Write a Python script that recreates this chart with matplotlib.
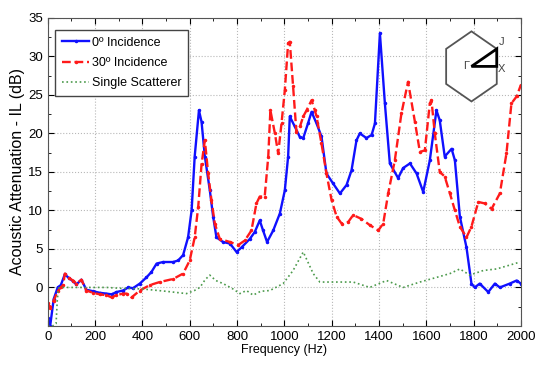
import matplotlib
matplotlib.use("Agg")
import matplotlib.pyplot as plt
from matplotlib.patches import Polygon
from matplotlib.ticker import MultipleLocator

plt.rcParams['font.family'] = ['Liberation Sans', 'DejaVu Sans']

# 0 deg incidence
f_0deg = [0, 10, 25, 42, 55, 72, 90, 107, 121, 142, 163, 192, 220, 248, 270, 290, 318, 340, 360,
          389, 417, 438, 460, 487, 530, 551, 572, 593, 608, 621, 639, 650, 664, 685, 699, 713, 741,
          770, 798, 819, 854, 875, 896, 910, 927, 953, 981, 1002, 1016, 1023, 1044, 1066, 1080,
          1100, 1115, 1136, 1157, 1178, 1206, 1235, 1263, 1284, 1305, 1319, 1347, 1369, 1383,
          1404, 1425, 1446, 1481, 1502, 1531, 1559, 1587, 1615, 1643, 1657, 1678, 1707, 1721,
          1742, 1770, 1791, 1805, 1826, 1862, 1890, 1911, 1953, 1982, 2000]
il_0deg = [-4.0, -5.0, -1.5, 0.0, 0.3, 1.7, 1.2, 0.8, 0.4, 1.0, -0.3, -0.5, -0.7, -0.8, -0.9, -0.6,
           -0.4, 0.0, -0.1, 0.5, 1.3, 2.0, 3.1, 3.3, 3.3, 3.5, 4.2, 6.5, 10.0, 17.0, 23.0, 21.5,
           17.0, 12.6, 9.2, 6.5, 5.9, 5.7, 4.6, 5.2, 6.3, 7.2, 8.7, 7.4, 5.9, 7.4, 9.6, 12.6, 17.0,
           22.2, 20.9, 19.5, 19.4, 21.3, 22.8, 21.3, 19.6, 14.8, 13.5, 12.2, 13.3, 15.2, 19.1,
           20.0, 19.4, 19.8, 21.3, 33.0, 23.9, 16.1, 14.2, 15.5, 16.1, 14.8, 12.4, 16.5, 23.0,
           21.7, 17.0, 18.0, 16.5, 9.2, 5.2, 0.5, 0.0, 0.5, -0.6, 0.5, 0.0, 0.5, 0.9, 0.5]

# 30 deg incidence
f_30deg = [0, 10, 25, 42, 55, 65, 72, 90, 107, 121, 142, 163, 192, 220, 248, 270, 290, 318, 333,
           354, 389, 431, 473, 530, 572, 600, 621, 636, 650, 664, 678, 692, 706, 727, 770, 805,
           833, 861, 882, 896, 917, 932, 941, 960, 974, 988, 1002, 1016, 1023, 1037, 1051, 1066,
           1080, 1094, 1115, 1129, 1136, 1157, 1178, 1200, 1221, 1242, 1270, 1291, 1326, 1361,
           1397, 1418, 1439, 1467, 1495, 1523, 1552, 1573, 1594, 1615, 1622, 1636, 1657, 1678,
           1700, 1721, 1742, 1770, 1791, 1820, 1848, 1876, 1911, 1939, 1960, 1982, 2000]
il_30deg = [-2.0, -2.7, -1.7, -0.5, 0.0, 0.3, 1.8, 1.2, 0.9, 0.5, 1.0, -0.4, -0.7, -0.9, -1.0,
            -1.3, -1.0, -0.8, -0.8, -1.3, -0.4, 0.3, 0.7, 1.1, 1.8, 3.5, 6.5, 10.5, 16.0, 19.1,
            14.8, 11.3, 8.3, 6.3, 5.9, 5.5, 6.1, 7.4, 10.9, 11.8, 11.8, 17.0, 23.0, 20.0, 17.4,
            21.3, 25.6, 31.7, 31.9, 26.1, 20.2, 20.9, 22.2, 23.0, 24.3, 23.0, 22.2, 18.7, 14.8,
            11.3, 9.2, 8.3, 8.5, 9.4, 8.9, 8.1, 7.4, 8.3, 12.2, 16.5, 22.6, 26.7, 21.5, 17.6,
            17.8, 23.9, 24.3, 20.0, 15.0, 14.4, 12.2, 10.0, 7.9, 6.5, 7.9, 11.1, 10.9, 10.2,
            12.2, 17.4, 23.9, 24.8, 26.3]

# single scatterer
f_single = [0, 20, 35, 40, 45, 60, 150, 250, 300, 400, 500, 586, 620, 643, 665, 685, 710, 741,
            783, 812, 840, 868, 900, 939, 995, 1037, 1080, 1122, 1150, 1221, 1291, 1361, 1432,
            1502, 1573, 1643, 1700, 1742, 1784, 1841, 1897, 1953, 1996]
il_single = [-5.0, -5.0, -4.7, -1.7, -0.1, 0.0, 0.0, 0.0, -0.1, -0.2, -0.5, -0.8, -0.4, 0.0, 1.0,
             1.6, 0.9, 0.5, -0.2, -0.8, -0.4, -1.0, -0.5, -0.4, 0.5, 2.2, 4.6, 1.8, 0.7, 0.7, 0.7,
             0.0, 0.9, 0.0, 0.7, 1.3, 1.8, 2.4, 1.6, 2.2, 2.4, 2.9, 3.3]

fig = plt.figure(figsize=(5.37, 3.65), dpi=100)
ax = fig.add_axes([0.089, 0.107, 0.881, 0.844])

ax.plot(f_0deg, il_0deg, '-', color='#1010ff', lw=1.7, marker='.', ms=3, label='0º Incidence')
ax.plot(f_30deg, il_30deg, '--', color='#ff1a1a', lw=1.7, marker='.', ms=3, label='30º Incidence')
ax.plot(f_single, il_single, ':', color='#4c9a4c', lw=1.2, label='Single Scatterer')

ax.set_xlim(0, 2000)
ax.set_ylim(-5, 35)
ax.xaxis.set_major_locator(MultipleLocator(200))
ax.xaxis.set_minor_locator(MultipleLocator(100))
ax.set_yticks([0, 5, 10, 15, 20, 25, 30, 35])
ax.yaxis.set_minor_locator(MultipleLocator(2.5))
ax.tick_params(which='both', direction='in', top=True, right=True, labelsize=9.5)
ax.tick_params(which='major', length=4)
ax.tick_params(which='minor', length=2.5)
ax.grid(True, which='major', linestyle=':', color='#b8b8b8', lw=0.8)
for s in ax.spines.values():
    s.set_color('#555555')

ax.set_xlabel('Frequency (Hz)', fontsize=9, labelpad=1)
ax.set_ylabel('Acoustic Attenuation - IL (dB)', fontsize=11.5, labelpad=2)

leg = ax.legend(loc='upper left', bbox_to_anchor=(0.015, 0.961), borderaxespad=0,
                fontsize=9, fancybox=False, edgecolor='#444444', framealpha=1,
                handlelength=2.2, borderpad=0.55, labelspacing=0.65, handletextpad=0.2)
leg.get_frame().set_linewidth(1.0)

# Brillouin zone inset
cx, cy = 1791, 28.7
hx, hy = 107, 4.55
hexagon = [(cx, cy + hy), (cx + hx, cy + hy / 2), (cx + hx, cy - hy / 2),
           (cx, cy - hy), (cx - hx, cy - hy / 2), (cx - hx, cy + hy / 2)]
ax.add_patch(Polygon(hexagon, closed=True, fill=True, facecolor='white',
                     edgecolor='#555555', lw=1.3, zorder=5))
ax.add_patch(Polygon([(cx, cy), (cx + hx, cy + hy / 2), (cx + hx, cy)], closed=True,
                     fill=False, edgecolor='black', lw=2, zorder=6))
ax.text(cx - 8, cy, 'Γ', fontsize=8, ha='right', va='center', color='#444444', zorder=7)
ax.text(cx + hx + 8, cy + hy / 2 + 0.3, 'J', fontsize=8, ha='left', va='bottom',
        color='#444444', zorder=7)
ax.text(cx + hx + 6, cy - 0.4, 'X', fontsize=8, ha='left', va='center', color='#444444', zorder=7)

fig.savefig('out.png', dpi=100)
